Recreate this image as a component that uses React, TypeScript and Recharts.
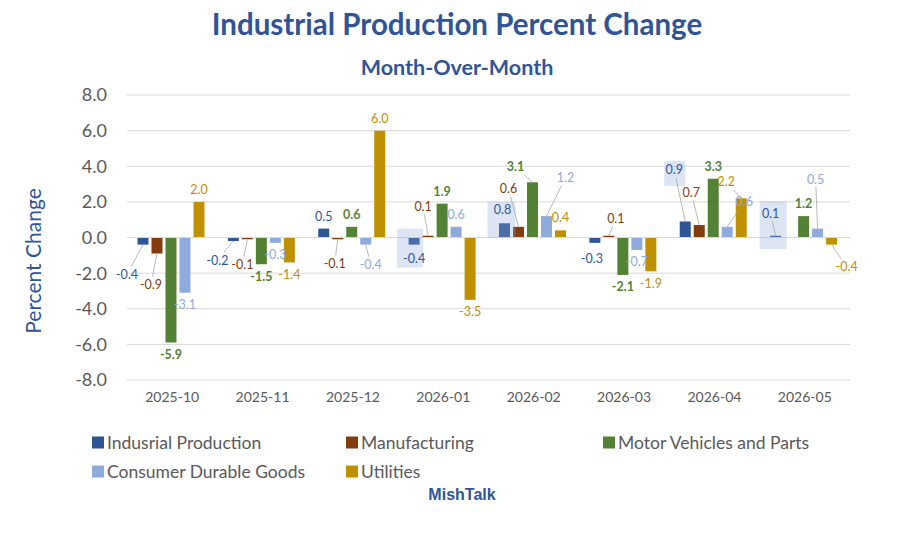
import React from "react";
import { BarChart, Bar, XAxis, YAxis, CartesianGrid, ReferenceLine, LabelList } from "recharts";

const categories = ["2025-10", "2025-11", "2025-12", "2026-01", "2026-02", "2026-03", "2026-04", "2026-05"];
const industrialProduction = [-0.4, -0.2, 0.5, -0.4, 0.8, -0.3, 0.9, 0.1];
const manufacturing = [-0.9, -0.1, -0.1, 0.1, 0.6, 0.1, 0.7, 0.0];
const motorVehicles = [-5.9, -1.5, 0.6, 1.9, 3.1, -2.1, 3.3, 1.2];
const consumerDurables = [-3.1, -0.3, -0.4, 0.6, 1.2, -0.7, 0.6, 0.5];
const utilities = [2.0, -1.4, 6.0, -3.5, 0.4, -1.9, 2.2, -0.4];
const yTicks = [-8, -6, -4, -2, 0, 2, 4, 6, 8];

const series = [
  { key: "ip", name: "Indusrial Production", values: industrialProduction, color: "#2F5597", bold: false },
  { key: "mfg", name: "Manufacturing", values: manufacturing, color: "#843C0C", bold: false },
  { key: "mv", name: "Motor Vehicles and Parts", values: motorVehicles, color: "#548235", bold: true },
  { key: "cd", name: "Consumer Durable Goods", values: consumerDurables, color: "#8FAADC", bold: false },
  { key: "ut", name: "Utilities", values: utilities, color: "#BF9000", bold: false },
];

// Label nudges (pixels, relative to default label spot), leader lines and highlight boxes
type Nudge = { dx: number; dy: number; line?: boolean; box?: [number, number, number, number] };
const labelNudges: Record<string, Nudge> = {
  "ip:0": { dx: -16, dy: 18, line: true },
  "mfg:0": { dx: -6, dy: 19, line: true },
  "ip:1": { dx: -16, dy: 7, line: true },
  "mfg:1": { dx: -5, dy: 13, line: true },
  "mfg:2": { dx: -3, dy: 12, line: true },
  "cd:2": { dx: 5, dy: 8, line: true },
  "ip:3": { dx: 0, dy: 2, box: [-17, -30, 26, 39] },
  "mfg:3": { dx: -5, dy: -17, line: true },
  "ip:4": { dx: -2, dy: -1, box: [-15, -8, 28, 36] },
  "mfg:4": { dx: -10, dy: -26, line: true },
  "mv:4": { dx: -17, dy: -3, line: true },
  "cd:4": { dx: 19, dy: -26, line: true },
  "ip:5": { dx: -3, dy: 4 },
  "mfg:5": { dx: 7, dy: -5, line: true },
  "ip:6": { dx: -11, dy: -39, line: true, box: [-10, -9, 21, 25] },
  "mfg:6": { dx: -8, dy: -20, line: true },
  "cd:6": { dx: 17, dy: -13, line: true },
  "ut:6": { dx: -15, dy: -4, line: true },
  "ip:7": { dx: -5, dy: -10, line: true, box: [-11, -12, 27, 48] },
  "mfg:7": { dx: -24, dy: -30, line: true },
  "cd:7": { dx: -2, dy: -37, line: true },
  "ut:7": { dx: 15, dy: 10, line: true },
};

const data = categories.map((c, i) => {
  const row: Record<string, any> = { month: c };
  series.forEach((s) => (row[s.key] = s.values[i]));
  return row;
});

const FONT = "Lato, 'Noto Sans', sans-serif";
const BLUE = "#2F5597";
const GRAY = "#595959";

const makeLabel = (key: string, color: string, bold: boolean) => (props: any) => {
  const { x, y, width, height, value, index } = props;
  const v = Number(value);
  const cx = x + width / 2;
  const top = Math.min(y, y + height);
  const bottom = Math.max(y, y + height);
  const barEnd = v >= 0 ? top : bottom;
  const nudge = labelNudges[`${key}:${index}`] || { dx: 0, dy: 0 };
  const lx = cx + nudge.dx;
  const ly = (v >= 0 ? top - 12.5 : bottom + 12) + nudge.dy;
  let line = null;
  if (nudge.line) {
    const vx = cx - lx;
    const vy = barEnd - ly;
    const t = Math.min(vx !== 0 ? 12 / Math.abs(vx) : Infinity, vy !== 0 ? 8 / Math.abs(vy) : Infinity);
    if (t < 1) {
      line = <line x1={cx} y1={barEnd} x2={lx + t * vx} y2={ly + t * vy} stroke="#A6A6A6" strokeWidth={0.8} />;
    }
  }
  const box = nudge.box ? (
    <rect x={lx + nudge.box[0]} y={ly + nudge.box[1]} width={nudge.box[2]} height={nudge.box[3]} fill="rgba(143,170,220,0.3)" />
  ) : null;
  return (
    <g>
      {box}
      {line}
      <text
        x={lx}
        y={ly}
        textAnchor="middle"
        dominantBaseline="central"
        fill={color}
        fontSize={12.5}
        fontWeight={bold ? 700 : 400}
        fontFamily={FONT}
      >
        {v.toFixed(1)}
      </text>
    </g>
  );
};

const legendCols = [92, 346, 603];
const legendRows = [442, 471];

export default function App() {
  return (
    <div style={{ position: "absolute", left: 0, top: 0, width: 914, height: 534, background: "#fff", fontFamily: FONT }}>
      <div style={{ position: "absolute", left: 0, top: 6, width: 914, textAlign: "center", fontSize: 29.5, fontWeight: 700, color: BLUE }}>
        Industrial Production Percent Change
      </div>
      <div style={{ position: "absolute", left: 0, top: 54, width: 914, textAlign: "center", fontSize: 21.5, fontWeight: 700, color: BLUE }}>
        Month-Over-Month
      </div>
      <div
        style={{
          position: "absolute",
          left: 32,
          top: 261,
          transform: "translate(-50%, -50%) rotate(-90deg)",
          fontSize: 21,
          color: BLUE,
          whiteSpace: "nowrap",
        }}
      >
        Percent Change
      </div>
      <BarChart
        width={914}
        height={534}
        data={data}
        margin={{ top: 95, right: 64, bottom: 124, left: 60 }}
        barCategoryGap="11.6%"
        barGap={3}
        style={{ position: "absolute", left: 0, top: 0 }}
      >
        <CartesianGrid vertical={false} stroke="#D9D9D9" />
        <XAxis
          dataKey="month"
          axisLine={false}
          tickLine={false}
          tickSize={0}
          tickMargin={12}
          height={30}
          tick={{ fill: GRAY, fontSize: 14, fontFamily: FONT }}
          interval={0}
        />
        <YAxis
          domain={[-8, 8]}
          ticks={yTicks}
          axisLine={false}
          tickLine={false}
          tickSize={0}
          tickMargin={20}
          width={67}
          tickFormatter={(v: number) => v.toFixed(1)}
          tick={{ fill: GRAY, fontSize: 18, fontFamily: FONT }}
        />
        <ReferenceLine y={0} stroke="#D9D9D9" />
        {series.map((s) => (
          <Bar key={s.key} dataKey={s.key} name={s.name} fill={s.color} isAnimationActive={false}>
            <LabelList dataKey={s.key} content={makeLabel(s.key, s.color, s.bold)} />
          </Bar>
        ))}
      </BarChart>
      {series.map((s, i) => (
        <div
          key={s.key}
          style={{
            position: "absolute",
            left: legendCols[i % 3],
            top: legendRows[Math.floor(i / 3)],
            transform: "translateY(-50%)",
            display: "flex",
            alignItems: "center",
            fontSize: 17.5,
            color: GRAY,
            whiteSpace: "nowrap",
          }}
        >
          <span style={{ display: "inline-block", width: 12, height: 12, background: s.color, marginRight: 3 }} />
          {s.name}
        </div>
      ))}
      <div style={{ position: "absolute", left: 0, top: 486, width: 924, textAlign: "center", fontSize: 16, fontWeight: 700, color: BLUE, fontFamily: "'Liberation Sans', Arial, sans-serif" }}>
        MishTalk
      </div>
    </div>
  );
}
